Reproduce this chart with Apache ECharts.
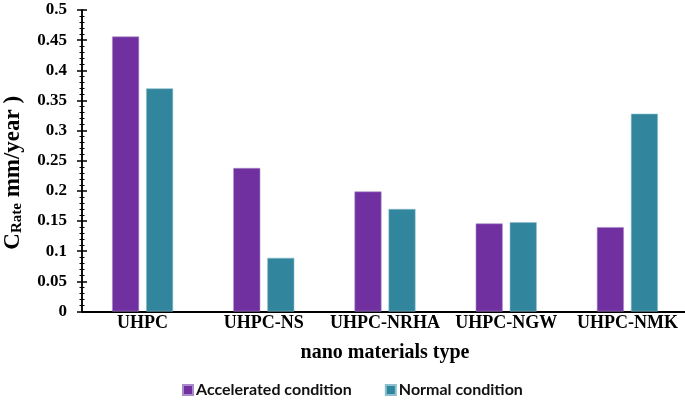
<!DOCTYPE html>
<html><head><meta charset="utf-8">
<script src="https://cdn.jsdelivr.net/npm/echarts@6/dist/echarts.min.js"></script>
<style>html,body{margin:0;padding:0;background:#fff}#c{width:685px;height:400px}</style>
</head><body><div id="c"></div>
<script>
var categories = ['UHPC', 'UHPC-NS', 'UHPC-NRHA', 'UHPC-NGW', 'UHPC-NMK'];
var accelerated = [0.456, 0.238, 0.199, 0.146, 0.140];
var normal = [0.370, 0.089, 0.170, 0.148, 0.328];
var seriesNames = ['Accelerated condition', 'Normal condition'];

var chart = echarts.init(document.getElementById('c'));
var serif = '"Liberation Serif", "Times New Roman", serif';
var yCommon = {
  type: 'value', min: 0, max: 0.5, interval: 0.05, position: 'left',
  splitLine: { show: false },
  axisLine: { show: true, lineStyle: { color: '#000', width: 1.5 } }
};
chart.setOption({
  animation: false,
  grid: { left: 82, top: 10, width: 606, height: 301.5, containLabel: false, outerBoundsMode: 'none' },
  legend: {
    top: 377, left: 177, itemWidth: 10, itemHeight: 10, itemGap: 33,
    icon: 'rect',
    textStyle: { fontFamily: 'Lato', fontWeight: 'bold', fontSize: 16, color: '#111', padding: [0, 0, 0, -2] },
    data: seriesNames
  },
  xAxis: {
    type: 'category', data: categories,
    axisLine: { lineStyle: { color: '#000', width: 2 } },
    axisTick: { show: false },
    axisLabel: { interval: 0, fontFamily: serif, fontWeight: 'bold', fontSize: 18, color: '#000', margin: 3 },
    name: 'nano materials type', nameLocation: 'middle', nameGap: 31,
    nameTextStyle: { fontFamily: serif, fontWeight: 'bold', fontSize: 20, color: '#000' }
  },
  yAxis: [
    Object.assign({}, yCommon, {
      axisTick: { show: true, inside: false, length: 5, lineStyle: { color: '#000', width: 1.5 } },
      minorTick: { show: true, splitNumber: 5, length: 2.5, lineStyle: { color: '#000', width: 1 } },
      axisLabel: { fontFamily: serif, fontWeight: 'bold', fontSize: 17, color: '#000', margin: 15 },
      name: '{c|C}{s|Rate}{c| mm/year )}', nameLocation: 'middle', nameGap: 57, nameRotate: 90,
      nameTextStyle: {
        padding: [0, 24, 0, 0],
        rich: {
          c: { fontFamily: serif, fontWeight: 'bold', fontSize: 23, color: '#000' },
          s: { fontFamily: serif, fontWeight: 'bold', fontSize: 15, color: '#000', padding: [9, 0, 0, 0] }
        }
      }
    }),
    Object.assign({}, yCommon, {
      axisTick: { show: true, inside: true, length: 5, lineStyle: { color: '#000', width: 1.5 } },
      minorTick: { show: true, splitNumber: 5, length: 2.5, lineStyle: { color: '#000', width: 1 } },
      axisLabel: { show: false }
    })
  ],
  series: [
    { name: seriesNames[0], type: 'bar', data: accelerated, barWidth: 27, barGap: '26%',
      itemStyle: { color: '#7030A0', borderColor: '#a98bc9', borderWidth: 0.6 } },
    { name: seriesNames[1], type: 'bar', data: normal, barWidth: 27, barGap: '26%',
      itemStyle: { color: '#31859C', borderColor: '#8cc0cf', borderWidth: 0.6 } }
  ]
});
</script></body></html>
